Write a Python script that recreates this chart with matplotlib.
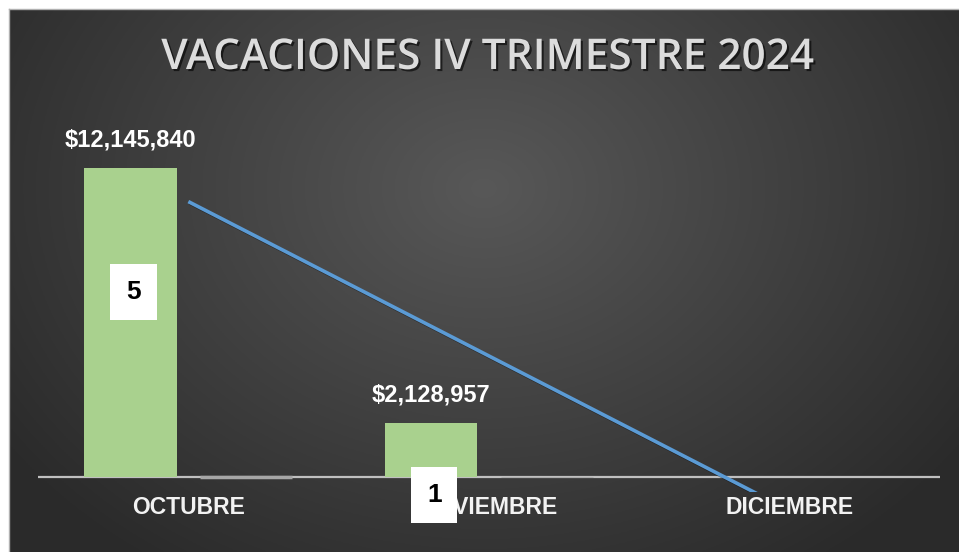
import numpy as np
import matplotlib.pyplot as plt
import matplotlib.patheffects as pe
from matplotlib.transforms import blended_transform_factory

# Datos del gráfico
meses = ['OCTUBRE', 'NOVIEMBRE', 'DICIEMBRE']
importes = [12145840, 2128957, 0]
personas = [5, 1, 0]
titulo = 'VACACIONES IV TRIMESTRE 2024'

W, H = 959, 552
fig = plt.figure(figsize=(W / 100, H / 100), dpi=100)
fig.patch.set_facecolor('white')

# Fondo con degradado radial (oscuro en los bordes)
bg = fig.add_axes([9 / W, 0, 1 - 9 / W, 1 - 9 / H])
yy, xx = np.mgrid[0:1:300j, 0:1:500j]
r = np.sqrt(((xx - 0.5) / 0.62) ** 2 + ((yy - 0.33) / 0.85) ** 2)
v = 0.345 - 0.18 * np.clip(r, 0, 1)
img = np.dstack([v, v, v])
bg.imshow(img, aspect='auto', extent=[0, 1, 0, 1], origin='upper')
bg.set_axis_off()
fig.add_artist(plt.Line2D([9 / W, 9 / W], [0, 1 - 9 / H], color='#b0b0b0', lw=1))
fig.add_artist(plt.Line2D([9 / W, 1], [1 - 9 / H, 1 - 9 / H], color='#b0b0b0', lw=1))

# Área del gráfico
ax = fig.add_axes([38 / W, (H - 492) / H, (940 - 38) / W, (492 - 121) / H])
ax.patch.set_alpha(0)
x = np.arange(len(meses))
ancho = 0.307
desp = 0.192

ax.bar(x - desp, importes, ancho, color='#a9d18e', zorder=3)
# la serie de personas casi no se ve sobre el eje primario
ax.bar(x + desp, personas, ancho, color='#a6a6a6', edgecolor='#a6a6a6',
       linewidth=[0.5 * p for p in personas], zorder=3)

ax.axhline(0, color='#c0c0c0', lw=1.6, zorder=2)

# Línea de tendencia lineal del importe
m, b = np.polyfit(x, importes, 1)
tend = m * x + b
ax.plot(x, tend, color='#5b9bd5', lw=2.6, zorder=4, solid_capstyle='butt',
        path_effects=[pe.SimpleLineShadow(offset=(1, -1), shadow_color='black', alpha=0.4),
                      pe.Normal()])

ax.set_xlim(-0.5, 2.5)
ax.set_ylim(-590000, 14000000)
for s in ax.spines.values():
    s.set_visible(False)
ax.set_xticks([])
ax.set_yticks([])

fuente = ['Liberation Sans', 'DejaVu Sans']

# Etiquetas de importe
for xi, val in zip(x, importes):
    if val > 0:
        ax.annotate(f'${val:,.0f}', (xi - desp, val), xytext=(0, 20), textcoords='offset points',
                    ha='center', va='center', color='white', fontsize=17,
                    fontweight='bold', family=fuente)

# Etiquetas de personas (cuadros blancos)
tr = blended_transform_factory(ax.transData, fig.transFigure)
pos_y = [292, 495]
for xi, p, py in zip(x, personas, pos_y):
    ax.text(xi - desp + 0.01, (H - py) / H, str(p), transform=tr, ha='center', va='center',
            fontsize=19, fontweight='bold', color='black', family=fuente, zorder=6,
            bbox=dict(boxstyle='square,pad=0.6', fc='white', ec='none'))

# Categorías
for xi, mes in zip(x, meses):
    ax.text(xi, (H - 507) / H, mes, transform=tr, ha='center', va='center',
            fontsize=16.5, fontweight='bold', color='#f2f2f2', family=fuente, zorder=5)

fig.text(488 / W, (H - 58) / H, titulo, ha='center', va='center', fontsize=30.5,
         fontweight='semibold', color='#dcdcdc', family=['Open Sans', 'DejaVu Sans'],
         path_effects=[pe.withSimplePatchShadow(offset=(1.5, -1.5), shadow_rgbFace='black', alpha=0.6)])

fig.savefig('out.png', dpi=100)
